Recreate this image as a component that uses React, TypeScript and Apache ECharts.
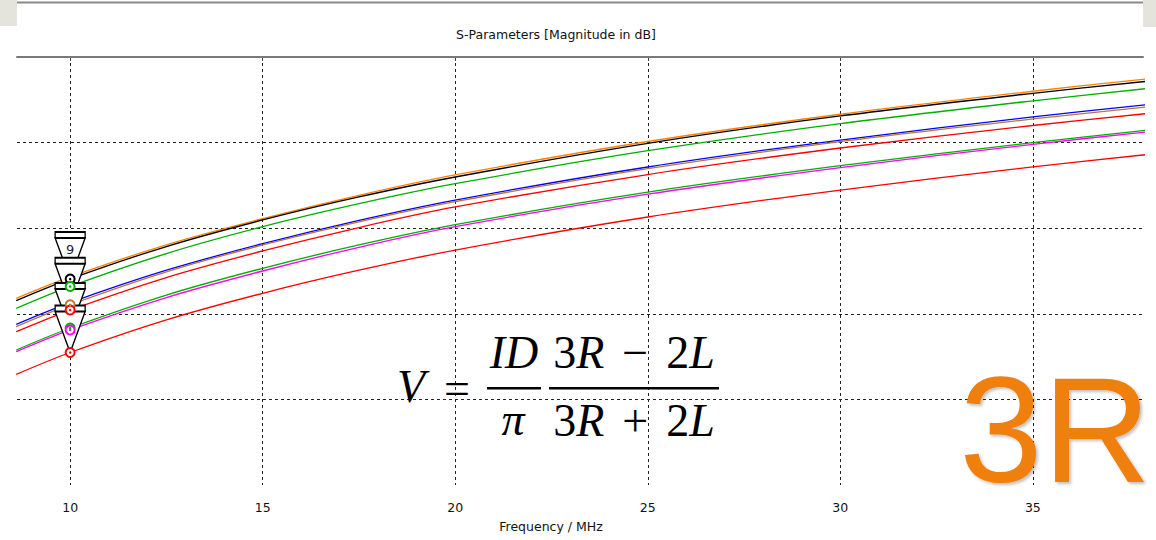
import React, { useEffect, useRef } from "react";
import * as echarts from "echarts";

// Frequency samples (MHz)
const freqs = [8.6, 10, 12.5, 15, 17.5, 20, 25, 30, 35, 38];

// Magnitudes (dB, arbitrary reference)
const orangeVals = [-28.19, -25.69, -21.94, -18.89, -16.16, -13.78, -9.87, -6.69, -4.0, -2.54];
const blackVals = [-28.47, -25.93, -22.14, -19.04, -16.35, -14.02, -10.09, -6.89, -4.24, -2.82];
const greenUpVals = [-29.36, -26.8, -22.96, -19.82, -17.14, -14.8, -10.95, -7.79, -5.12, -3.67];
const blueVals = [-31.23, -28.69, -24.91, -21.81, -19.08, -16.71, -12.85, -9.7, -7.0, -5.54];
const brownVals = [-31.51, -28.94, -25.09, -21.96, -19.26, -16.9, -13.05, -9.89, -7.24, -5.81];
const redUpVals = [-32.09, -29.56, -25.76, -22.66, -19.92, -17.52, -13.73, -10.63, -8.0, -6.59];
const greenLowVals = [-34.23, -31.66, -27.81, -24.68, -21.96, -19.59, -15.79, -12.7, -10.0, -8.54];
const magentaVals = [-34.43, -31.89, -28.1, -25.0, -22.23, -19.82, -16.03, -12.93, -10.2, -8.73];
const redLowVals = [-37.07, -34.52, -30.71, -27.6, -24.91, -22.55, -18.69, -15.54, -12.84, -11.38];

const curveNames = ["S1", "S2", "S3", "S4", "S5", "S6", "S7", "S8", "S9"];
const curveValues = [orangeVals, blackVals, greenUpVals, blueVals, brownVals, redUpVals, greenLowVals, magentaVals, redLowVals];
const curveColors = ["#ff8000", "#000000", "#00b000", "#0000ff", "#b87838", "#ff0000", "#00b000", "#ff00ff", "#ff0000"];

// Marker frequency and which curves carry markers
const markerFreq = 10;
const circleCurves = [1, 2, 4, 5, 6, 7, 8];
const triangleCurves = [1, 4, 7, 8];
const markerLabel = "9";

const titleText = "S-Parameters [Magnitude in dB]";
const xAxisName = "Frequency / MHz";

export default function App() {
  const ref = useRef<HTMLDivElement>(null);

  useEffect(() => {
    document.body.style.margin = "0";
    const chart = echarts.init(ref.current!, null, { renderer: "svg" });
    const mi = freqs.indexOf(markerFreq);

    const lineSeries = curveValues.map((vals, i) => ({
      name: curveNames[i],
      type: "line",
      data: freqs.map((f, k) => [f, vals[k]]),
      showSymbol: false,
      smooth: 0.3,
      clip: true,
      lineStyle: { color: curveColors[i], width: 1.3 },
      itemStyle: { color: curveColors[i] },
      z: 2,
    }));

    const triangleSeries = {
      type: "scatter",
      symbol: "path://M0,0 L30,0 L30,6 L0,6 Z M0,6 L30,6 L15,47 Z",
      symbolSize: [30, 47],
      symbolOffset: [0, "-50%"],
      itemStyle: { color: "#ffffff", borderColor: "#000000", borderWidth: 1.6, opacity: 1 },
      z: 4,
      data: triangleCurves.map((ci, j) => ({
        value: [markerFreq, curveValues[ci][mi]],
        label:
          j === 0
            ? {
                show: true,
                formatter: markerLabel,
                position: "inside",
                offset: [0, -6],
                color: "#222",
                fontSize: 13,
                fontFamily: "DejaVu Sans",
              }
            : { show: false },
      })),
    };

    const circleSeries = {
      type: "scatter",
      symbol: "circle",
      symbolSize: 9,
      z: 5,
      data: circleCurves.map((ci) => ({
        value: [markerFreq, curveValues[ci][mi]],
        itemStyle: { color: "#ffffff", borderColor: curveColors[ci], borderWidth: 2, opacity: 1 },
      })),
    };

    const dotSeries = {
      type: "scatter",
      symbol: "circle",
      symbolSize: 2.5,
      z: 6,
      data: circleCurves.map((ci) => ({
        value: [markerFreq, curveValues[ci][mi]],
        itemStyle: { color: curveColors[ci], opacity: 1 },
      })),
    };

    const serif = '"Liberation Serif", "DejaVu Serif", serif';
    const mathRich = {
      u: { fontFamily: serif, fontSize: 46, fontStyle: "normal", fill: "#000", color: "#000" },
      it: { fontFamily: serif, fontSize: 46, fontStyle: "italic", fill: "#000", color: "#000" },
      sp: { fontFamily: serif, fontSize: 46, width: 18 },
    };

    const uiFont = "DejaVu Sans";

    chart.setOption({
      animation: false,
      backgroundColor: "#ffffff",
      title: {
        text: titleText,
        left: 551,
        top: 23,
        textAlign: "center",
        textStyle: { fontFamily: uiFont, fontSize: 12.5, fontWeight: "normal", color: "#111" },
      },
      grid: { left: 17, right: 13, top: 57, bottom: 55, containLabel: false },
      xAxis: {
        type: "value",
        min: 8.62,
        max: 37.86,
        name: xAxisName,
        nameLocation: "middle",
        nameGap: 35,
        nameTextStyle: { fontFamily: uiFont, fontSize: 12.5, color: "#111", padding: [0, 58, 0, 0] },
        axisLine: { lineStyle: { color: "#7a7a7a", width: 2 } },
        axisTick: { show: true, length: 4, lineStyle: { color: "#444" } },
        axisLabel: {
          showMinLabel: false,
          showMaxLabel: false,
          color: "#111",
          fontFamily: uiFont,
          fontSize: 12.5,
          margin: 16,
        },
        splitLine: {
          show: true,
          showMinLine: false,
          showMaxLine: false,
          lineStyle: { type: [3, 3], color: "#222", width: 1 },
        },
      },
      yAxis: {
        type: "value",
        min: -50,
        max: 0,
        interval: 10,
        axisLabel: { show: false },
        axisLine: { show: false },
        axisTick: { show: false },
        splitLine: {
          show: true,
          showMinLine: false,
          showMaxLine: false,
          lineStyle: { type: [3, 3], color: "#222", width: 1 },
        },
      },
      series: [...lineSeries, triangleSeries, circleSeries, dotSeries],
      graphic: [
        { type: "rect", shape: { x: 0, y: 0, width: 17, height: 26 }, style: { fill: "#e4e4dc" }, silent: true },
        { type: "rect", shape: { x: 1143, y: 0, width: 13, height: 27 }, style: { fill: "#e4e4dc" }, silent: true },
        { type: "line", shape: { x1: 17, y1: 2.5, x2: 1143, y2: 2.5 }, style: { stroke: "#8a8a8a", lineWidth: 2 }, silent: true },
        { type: "line", shape: { x1: 17, y1: 57, x2: 1143, y2: 57 }, style: { stroke: "#7a7a7a", lineWidth: 2 }, silent: true, z: 10 },
        // formula
        { type: "text", x: 411, y: 386, z: 20, style: { text: "{it|V}", rich: mathRich, align: "center", verticalAlign: "middle" } },
        { type: "text", x: 457, y: 388, z: 20, style: { text: "{u|=}", rich: mathRich, align: "center", verticalAlign: "middle" } },
        { type: "text", x: 514, y: 352, z: 20, style: { text: "{it|ID}", rich: mathRich, align: "center", verticalAlign: "middle" } },
        { type: "rect", z: 20, shape: { x: 487, y: 387, width: 54, height: 2.5 }, style: { fill: "#000" } },
        { type: "text", x: 513, y: 419, z: 20, style: { text: "{it|π}", rich: mathRich, align: "center", verticalAlign: "middle" } },
        { type: "text", x: 634, y: 352, z: 20, style: { text: "{u|3}{it|R}{sp|}{u|−}{sp|}{u|2}{it|L}", rich: mathRich, align: "center", verticalAlign: "middle" } },
        { type: "rect", z: 20, shape: { x: 549, y: 387, width: 170, height: 2.5 }, style: { fill: "#000" } },
        { type: "text", x: 634, y: 420, z: 20, style: { text: "{u|3}{it|R}{sp|}{u|+}{sp|}{u|2}{it|L}", rich: mathRich, align: "center", verticalAlign: "middle" } },
        // 3R logo text
        {
          type: "text",
          x: 1151,
          y: 430,
          z: 20,
          style: {
            text: "3R",
            fill: "#ef8010",
            font: '150px "Liberation Sans", Arial, sans-serif',
            lineHeight: 110,
            align: "right",
            verticalAlign: "middle",
            textShadowColor: "rgba(0,0,0,0.25)",
            textShadowBlur: 3,
            textShadowOffsetX: 2,
            textShadowOffsetY: 2,
          },
        },
      ],
    });

    return () => chart.dispose();
  }, []);

  return <div ref={ref} style={{ width: 1156, height: 540 }} />;
}
